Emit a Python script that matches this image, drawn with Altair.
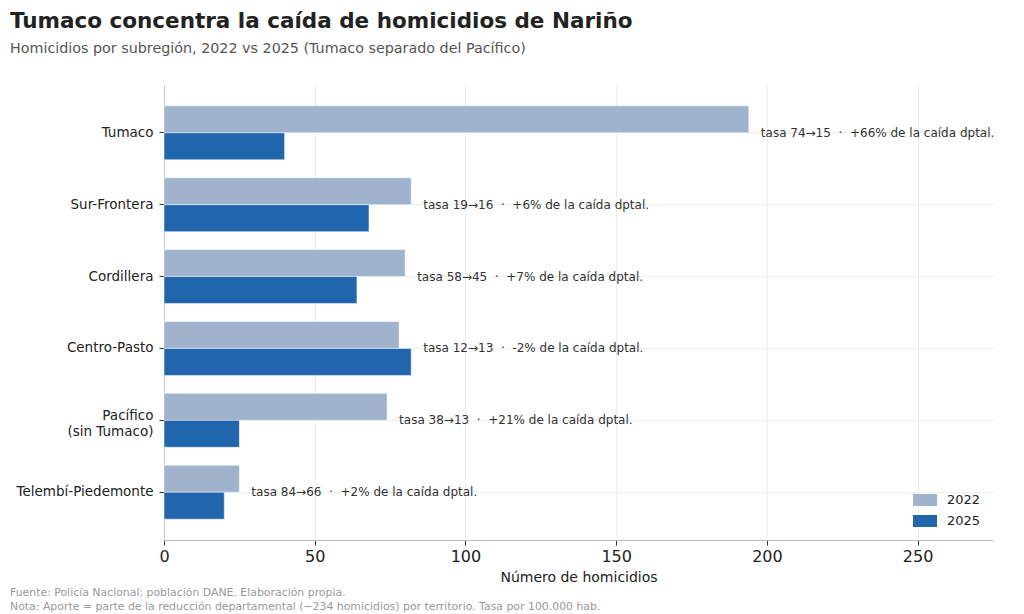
import altair as alt
import pandas as pd

regions = ["Tumaco", "Sur-Frontera", "Cordillera", "Centro-Pasto", "Pacífico\n(sin Tumaco)", "Telembí-Piedemonte"]
hom_2022 = [194, 82, 80, 78, 74, 25]
hom_2025 = [40, 68, 64, 82, 25, 20]
tasa_2022 = [74, 19, 58, 12, 38, 84]
tasa_2025 = [15, 16, 45, 13, 13, 66]
aporte = ["+66%", "+6%", "+7%", "-2%", "+21%", "+2%"]
years = ["2022", "2025"]
colors = ["#9fb3cc", "#2166ac"]
x_ticks = [0, 50, 100, 150, 200, 250]

rows = []
for r, a, b in zip(regions, hom_2022, hom_2025):
    rows.append({"region": r, "year": "2022", "value": a})
    rows.append({"region": r, "year": "2025", "value": b})
df = pd.DataFrame(rows)

SEP = "\u00a0\u00a0·\u00a0\u00a0"
lab = pd.DataFrame({
    "region": regions,
    "maxval": [max(a, b) for a, b in zip(hom_2022, hom_2025)],
    "label": [f"tasa {t1}→{t2}{SEP}{p} de la caída dptal." for t1, t2, p in zip(tasa_2022, tasa_2025, aporte)],
})

foot = pd.DataFrame({"t": ["Fuente: Policía Nacional; población DANE. Elaboración propia.\n"
                           "Nota: Aporte = parte de la reducción departamental (−234 homicidios) por territorio. Tasa por 100.000 hab."]})

W, H = 829, 455
FONT = "DejaVu Sans"

y_enc = alt.Y("region:N", sort=regions, title=None,
              scale=alt.Scale(paddingInner=0.25, paddingOuter=0.29),
              axis=alt.Axis(labelExpr="split(datum.label, '\\n')", labelFontSize=13.5, labelColor="#222",
                            labelFont=FONT, tickSize=5, tickColor="#333", labelPadding=6,
                            labelOffset={"condition": {"test": "indexof(datum.value, 'sin') >= 0", "value": -4}, "value": 0},
                            domainColor="#cccccc", grid=True, gridColor="#eeeeee", labelLineHeight=16))

bars = alt.Chart(df).mark_bar(stroke="white", strokeWidth=0.5).encode(
    x=alt.X("value:Q", scale=alt.Scale(domain=[0, 275], nice=False),
            axis=alt.Axis(values=x_ticks, title="Número de homicidios", grid=True, gridColor="#eeeeee",
                          labelFontSize=16, labelColor="#222", labelFont=FONT, titleFont=FONT,
                          titleFontSize=14, titleFontWeight="normal", titleColor="#222",
                          tickSize=5, tickColor="#333", domainColor="#bbbbbb", labelPadding=3,
                          titlePadding=6, labelFlush=False)),
    y=y_enc,
    yOffset=alt.YOffset("year:N", sort=years, scale=alt.Scale(paddingInner=0, paddingOuter=0)),
    color=alt.Color("year:N", scale=alt.Scale(domain=years, range=colors),
                    legend=alt.Legend(title=None, orient="bottom-right", offset=12,
                                      symbolType="M-1,-0.5H1V0.5H-1Z", symbolSize=576,
                                      symbolStrokeWidth=0, symbolOpacity=1, labelFontSize=13,
                                      labelFont=FONT, labelColor="#222", rowPadding=2, labelOffset=10)),
)

texts = alt.Chart(lab).mark_text(align="left", baseline="middle", dx=12, fontSize=12,
                                 font=FONT, color="#333").encode(
    x=alt.X("maxval:Q"),
    y=alt.Y("region:N", sort=regions),
    text="label:N",
)

footer = alt.Chart(foot).mark_text(align="left", baseline="top", fontSize=10.9, font=FONT,
                                   color="#999", lineBreak="\n", lineHeight=14).encode(
    x=alt.value(-154), y=alt.value(H + 47), text="t:N")

chart = alt.layer(bars, texts, footer).properties(
    width=W, height=H,
    autosize=alt.AutoSizeParams(type="none"),
    padding={"left": 156, "top": 77, "right": 20, "bottom": 76},
    view=alt.ViewBackground(stroke="transparent", strokeWidth=0),
    title=alt.TitleParams(text="Tumaco concentra la caída de homicidios de Nariño",
                          subtitle="Homicidios por subregión, 2022 vs 2025 (Tumaco separado del Pacífico)",
                          anchor="start", frame="group", dx=-154, offset=29,
                          font=FONT, fontSize=21.5, fontWeight="bold", color="#222",
                          subtitleFont=FONT, subtitleFontSize=14.3, subtitleColor="#555",
                          subtitlePadding=9),
).configure_view(stroke="transparent", strokeWidth=0).configure(background="white")

chart.save("out.html", embed_options={"renderer": "svg", "actions": False})
